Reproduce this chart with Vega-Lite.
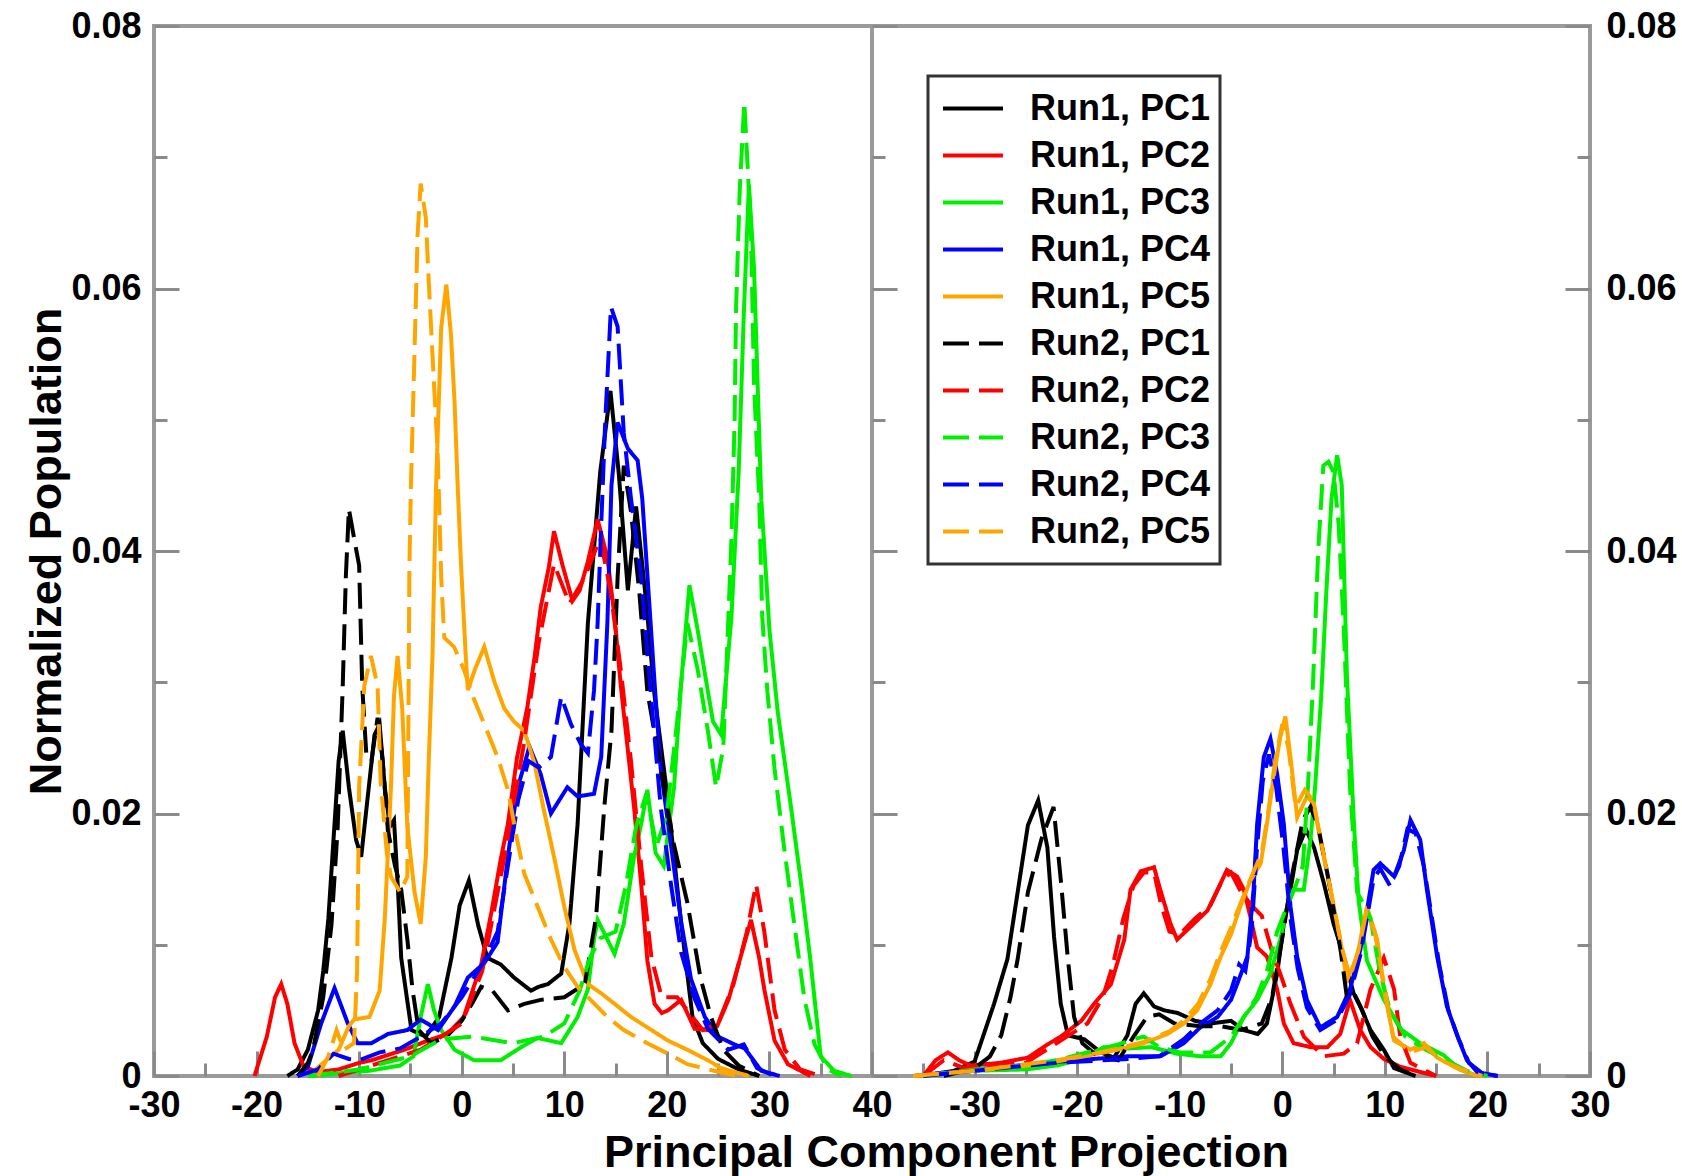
{
"$schema":"https://vega.github.io/schema/vega-lite/v6.json",
"background":"white",
"padding":{"left":22,"top":6,"right":0,"bottom":0},
"spacing":0,
"bounds":"flush",
"config":{
 "font":"Liberation Sans",
 "view":{"stroke":"#9a9a9a","strokeWidth":4},
 "axis":{"domain":false,"grid":false,"tickColor":"#8a8a8a","tickWidth":3,"labelFont":"Liberation Sans","labelFontSize":36,"labelFontWeight":"bold","labelColor":"#000","titleFont":"Liberation Sans","titleFontSize":45,"titleFontWeight":"bold","titleColor":"#000","labelFlush":false,"labelOverlap":false},
 "legend":{"strokeWidth":3}
},
"datasets":{
"L":[
{"s":"Run1, PC1","x":-17,"y":0},{"s":"Run1, PC1","x":-16,"y":0.0005},{"s":"Run1, PC1","x":-15,"y":0.002},{"s":"Run1, PC1","x":-14,"y":0.005},{"s":"Run1, PC1","x":-13.5,"y":0.008},{"s":"Run1, PC1","x":-13,"y":0.012},{"s":"Run1, PC1","x":-12.5,"y":0.018},{"s":"Run1, PC1","x":-12,"y":0.024},{"s":"Run1, PC1","x":-11.6,"y":0.0263},{"s":"Run1, PC1","x":-11,"y":0.022},{"s":"Run1, PC1","x":-10.3,"y":0.018},{"s":"Run1, PC1","x":-9.8,"y":0.0167},{"s":"Run1, PC1","x":-9.2,"y":0.021},{"s":"Run1, PC1","x":-8.5,"y":0.026},{"s":"Run1, PC1","x":-8,"y":0.0268},{"s":"Run1, PC1","x":-7.5,"y":0.022},{"s":"Run1, PC1","x":-7,"y":0.019},{"s":"Run1, PC1","x":-6.6,"y":0.0195},{"s":"Run1, PC1","x":-6.2,"y":0.014},{"s":"Run1, PC1","x":-5.9,"y":0.009},{"s":"Run1, PC1","x":-4.9,"y":0.0035},{"s":"Run1, PC1","x":-3.5,"y":0.003},{"s":"Run1, PC1","x":-2.2,"y":0.0045},{"s":"Run1, PC1","x":-1,"y":0.009},{"s":"Run1, PC1","x":-0.2,"y":0.013},{"s":"Run1, PC1","x":0.7,"y":0.0149},{"s":"Run1, PC1","x":1.6,"y":0.0115},{"s":"Run1, PC1","x":2.5,"y":0.009},{"s":"Run1, PC1","x":3.8,"y":0.0085},{"s":"Run1, PC1","x":5.1,"y":0.0075},{"s":"Run1, PC1","x":6.75,"y":0.0065},{"s":"Run1, PC1","x":7.5,"y":0.0068},{"s":"Run1, PC1","x":8.4,"y":0.007},{"s":"Run1, PC1","x":9.7,"y":0.0078},{"s":"Run1, PC1","x":10.5,"y":0.0116},{"s":"Run1, PC1","x":11.3,"y":0.0192},{"s":"Run1, PC1","x":12.3,"y":0.0345},{"s":"Run1, PC1","x":13.5,"y":0.046},{"s":"Run1, PC1","x":14.5,"y":0.0522},{"s":"Run1, PC1","x":15.3,"y":0.046},{"s":"Run1, PC1","x":16.2,"y":0.037},{"s":"Run1, PC1","x":17,"y":0.0434},{"s":"Run1, PC1","x":18,"y":0.036},{"s":"Run1, PC1","x":18.8,"y":0.029},{"s":"Run1, PC1","x":20.1,"y":0.021},{"s":"Run1, PC1","x":21.4,"y":0.0116},{"s":"Run1, PC1","x":22.5,"y":0.0045},{"s":"Run1, PC1","x":23.5,"y":0.0025},{"s":"Run1, PC1","x":25,"y":0.0013},{"s":"Run1, PC1","x":27,"y":0.0005},{"s":"Run1, PC1","x":29,"y":0},
{"s":"Run1, PC2","x":-20.2,"y":0},{"s":"Run1, PC2","x":-19,"y":0.003},{"s":"Run1, PC2","x":-18.2,"y":0.006},{"s":"Run1, PC2","x":-17.6,"y":0.007},{"s":"Run1, PC2","x":-17,"y":0.0055},{"s":"Run1, PC2","x":-16.3,"y":0.0025},{"s":"Run1, PC2","x":-15.4,"y":0.0007},{"s":"Run1, PC2","x":-14,"y":0.0003},{"s":"Run1, PC2","x":-12,"y":0.0005},{"s":"Run1, PC2","x":-10,"y":0.001},{"s":"Run1, PC2","x":-8.8,"y":0.0012},{"s":"Run1, PC2","x":-5.6,"y":0.002},{"s":"Run1, PC2","x":-3.3,"y":0.0027},{"s":"Run1, PC2","x":-1.4,"y":0.0032},{"s":"Run1, PC2","x":0.2,"y":0.0045},{"s":"Run1, PC2","x":1.9,"y":0.0085},{"s":"Run1, PC2","x":2.9,"y":0.0125},{"s":"Run1, PC2","x":3.8,"y":0.0165},{"s":"Run1, PC2","x":4.5,"y":0.0192},{"s":"Run1, PC2","x":5.4,"y":0.0243},{"s":"Run1, PC2","x":6.4,"y":0.0281},{"s":"Run1, PC2","x":7.1,"y":0.0319},{"s":"Run1, PC2","x":7.7,"y":0.0357},{"s":"Run1, PC2","x":8.5,"y":0.0388},{"s":"Run1, PC2","x":9,"y":0.0415},{"s":"Run1, PC2","x":9.8,"y":0.039},{"s":"Run1, PC2","x":10.8,"y":0.0362},{"s":"Run1, PC2","x":11.5,"y":0.037},{"s":"Run1, PC2","x":12.3,"y":0.0392},{"s":"Run1, PC2","x":13.25,"y":0.0424},{"s":"Run1, PC2","x":14.2,"y":0.0395},{"s":"Run1, PC2","x":14.9,"y":0.035},{"s":"Run1, PC2","x":15.5,"y":0.0298},{"s":"Run1, PC2","x":16.2,"y":0.0248},{"s":"Run1, PC2","x":16.8,"y":0.0205},{"s":"Run1, PC2","x":17.5,"y":0.0146},{"s":"Run1, PC2","x":18.1,"y":0.0088},{"s":"Run1, PC2","x":18.8,"y":0.0055},{"s":"Run1, PC2","x":19.5,"y":0.0048},{"s":"Run1, PC2","x":20.1,"y":0.005},{"s":"Run1, PC2","x":21.4,"y":0.0058},{"s":"Run1, PC2","x":22.7,"y":0.0036},{"s":"Run1, PC2","x":24,"y":0.0035},{"s":"Run1, PC2","x":24.9,"y":0.0038},{"s":"Run1, PC2","x":26,"y":0.0058},{"s":"Run1, PC2","x":27.2,"y":0.0091},{"s":"Run1, PC2","x":28.2,"y":0.0119},{"s":"Run1, PC2","x":29,"y":0.009},{"s":"Run1, PC2","x":29.5,"y":0.0066},{"s":"Run1, PC2","x":30.5,"y":0.0027},{"s":"Run1, PC2","x":31.8,"y":0.0009},{"s":"Run1, PC2","x":34,"y":0},
{"s":"Run1, PC3","x":-15,"y":0},{"s":"Run1, PC3","x":-12,"y":0.0002},{"s":"Run1, PC3","x":-9,"y":0.0004},{"s":"Run1, PC3","x":-6,"y":0.0008},{"s":"Run1, PC3","x":-4.7,"y":0.0015},{"s":"Run1, PC3","x":-4,"y":0.0045},{"s":"Run1, PC3","x":-3.3,"y":0.007},{"s":"Run1, PC3","x":-2.7,"y":0.005},{"s":"Run1, PC3","x":-2,"y":0.0035},{"s":"Run1, PC3","x":-0.7,"y":0.002},{"s":"Run1, PC3","x":1.2,"y":0.0012},{"s":"Run1, PC3","x":3.8,"y":0.0012},{"s":"Run1, PC3","x":5.8,"y":0.0022},{"s":"Run1, PC3","x":7.4,"y":0.0029},{"s":"Run1, PC3","x":9.7,"y":0.0025},{"s":"Run1, PC3","x":11.3,"y":0.0045},{"s":"Run1, PC3","x":12.3,"y":0.0066},{"s":"Run1, PC3","x":12.9,"y":0.0104},{"s":"Run1, PC3","x":13.25,"y":0.0119},{"s":"Run1, PC3","x":14.2,"y":0.0104},{"s":"Run1, PC3","x":14.9,"y":0.0093},{"s":"Run1, PC3","x":15.8,"y":0.0116},{"s":"Run1, PC3","x":16.8,"y":0.0167},{"s":"Run1, PC3","x":17.5,"y":0.0192},{"s":"Run1, PC3","x":18.1,"y":0.0218},{"s":"Run1, PC3","x":18.9,"y":0.017},{"s":"Run1, PC3","x":19.7,"y":0.016},{"s":"Run1, PC3","x":20.7,"y":0.022},{"s":"Run1, PC3","x":21.4,"y":0.03},{"s":"Run1, PC3","x":22.2,"y":0.0374},{"s":"Run1, PC3","x":23,"y":0.034},{"s":"Run1, PC3","x":23.7,"y":0.0307},{"s":"Run1, PC3","x":24.5,"y":0.027},{"s":"Run1, PC3","x":25.3,"y":0.026},{"s":"Run1, PC3","x":26.3,"y":0.035},{"s":"Run1, PC3","x":27,"y":0.046},{"s":"Run1, PC3","x":27.5,"y":0.058},{"s":"Run1, PC3","x":28,"y":0.0679},{"s":"Run1, PC3","x":28.5,"y":0.0615},{"s":"Run1, PC3","x":28.85,"y":0.0527},{"s":"Run1, PC3","x":29.2,"y":0.044},{"s":"Run1, PC3","x":30,"y":0.034},{"s":"Run1, PC3","x":30.8,"y":0.0278},{"s":"Run1, PC3","x":32.1,"y":0.0205},{"s":"Run1, PC3","x":33.1,"y":0.0146},{"s":"Run1, PC3","x":34,"y":0.0088},{"s":"Run1, PC3","x":35,"y":0.0015},{"s":"Run1, PC3","x":36.3,"y":0.0004},{"s":"Run1, PC3","x":38,"y":0},
{"s":"Run1, PC4","x":-16,"y":0},{"s":"Run1, PC4","x":-15,"y":0.0007},{"s":"Run1, PC4","x":-13.7,"y":0.004},{"s":"Run1, PC4","x":-12.4,"y":0.0067},{"s":"Run1, PC4","x":-11.1,"y":0.004},{"s":"Run1, PC4","x":-10.15,"y":0.0025},{"s":"Run1, PC4","x":-8.8,"y":0.0025},{"s":"Run1, PC4","x":-7.2,"y":0.0032},{"s":"Run1, PC4","x":-5.3,"y":0.0035},{"s":"Run1, PC4","x":-4,"y":0.0043},{"s":"Run1, PC4","x":-2.3,"y":0.0035},{"s":"Run1, PC4","x":-0.7,"y":0.0053},{"s":"Run1, PC4","x":0.6,"y":0.0075},{"s":"Run1, PC4","x":2.2,"y":0.0086},{"s":"Run1, PC4","x":3.5,"y":0.0102},{"s":"Run1, PC4","x":4.5,"y":0.0167},{"s":"Run1, PC4","x":5.4,"y":0.0218},{"s":"Run1, PC4","x":6.6,"y":0.0251},{"s":"Run1, PC4","x":7.7,"y":0.023},{"s":"Run1, PC4","x":8.7,"y":0.02},{"s":"Run1, PC4","x":9.5,"y":0.021},{"s":"Run1, PC4","x":10.3,"y":0.022},{"s":"Run1, PC4","x":11.3,"y":0.0213},{"s":"Run1, PC4","x":12.9,"y":0.0215},{"s":"Run1, PC4","x":13.6,"y":0.0243},{"s":"Run1, PC4","x":13.9,"y":0.0294},{"s":"Run1, PC4","x":14.2,"y":0.0345},{"s":"Run1, PC4","x":14.6,"y":0.045},{"s":"Run1, PC4","x":15.2,"y":0.0498},{"s":"Run1, PC4","x":16.2,"y":0.0478},{"s":"Run1, PC4","x":17.15,"y":0.0469},{"s":"Run1, PC4","x":17.6,"y":0.044},{"s":"Run1, PC4","x":18.1,"y":0.0382},{"s":"Run1, PC4","x":18.8,"y":0.03},{"s":"Run1, PC4","x":19.4,"y":0.0234},{"s":"Run1, PC4","x":20.4,"y":0.0176},{"s":"Run1, PC4","x":21.4,"y":0.0117},{"s":"Run1, PC4","x":22.35,"y":0.0074},{"s":"Run1, PC4","x":23.7,"y":0.0045},{"s":"Run1, PC4","x":25,"y":0.003},{"s":"Run1, PC4","x":26.6,"y":0.0024},{"s":"Run1, PC4","x":27.6,"y":0.0021},{"s":"Run1, PC4","x":29.2,"y":0.0004},{"s":"Run1, PC4","x":31,"y":0},
{"s":"Run1, PC5","x":-15,"y":0},{"s":"Run1, PC5","x":-13.5,"y":0.001},{"s":"Run1, PC5","x":-12,"y":0.002},{"s":"Run1, PC5","x":-11,"y":0.0038},{"s":"Run1, PC5","x":-10.5,"y":0.0043},{"s":"Run1, PC5","x":-9,"y":0.0045},{"s":"Run1, PC5","x":-8,"y":0.0065},{"s":"Run1, PC5","x":-7.5,"y":0.012},{"s":"Run1, PC5","x":-6.9,"y":0.022},{"s":"Run1, PC5","x":-6.6,"y":0.029},{"s":"Run1, PC5","x":-6.25,"y":0.032},{"s":"Run1, PC5","x":-5.8,"y":0.028},{"s":"Run1, PC5","x":-5.3,"y":0.019},{"s":"Run1, PC5","x":-4.6,"y":0.014},{"s":"Run1, PC5","x":-4,"y":0.0116},{"s":"Run1, PC5","x":-3.5,"y":0.0167},{"s":"Run1, PC5","x":-3.2,"y":0.0243},{"s":"Run1, PC5","x":-2.85,"y":0.032},{"s":"Run1, PC5","x":-2.5,"y":0.045},{"s":"Run1, PC5","x":-2,"y":0.057},{"s":"Run1, PC5","x":-1.5,"y":0.0603},{"s":"Run1, PC5","x":-1.05,"y":0.0565},{"s":"Run1, PC5","x":-0.7,"y":0.0514},{"s":"Run1, PC5","x":-0.4,"y":0.0451},{"s":"Run1, PC5","x":-0.07,"y":0.039},{"s":"Run1, PC5","x":0.4,"y":0.0319},{"s":"Run1, PC5","x":0.6,"y":0.0294},{"s":"Run1, PC5","x":1.3,"y":0.031},{"s":"Run1, PC5","x":2.2,"y":0.0327},{"s":"Run1, PC5","x":3.2,"y":0.03},{"s":"Run1, PC5","x":4.15,"y":0.028},{"s":"Run1, PC5","x":5.1,"y":0.027},{"s":"Run1, PC5","x":6.1,"y":0.0263},{"s":"Run1, PC5","x":7.1,"y":0.0238},{"s":"Run1, PC5","x":8,"y":0.0203},{"s":"Run1, PC5","x":9,"y":0.0167},{"s":"Run1, PC5","x":10,"y":0.0129},{"s":"Run1, PC5","x":11,"y":0.0096},{"s":"Run1, PC5","x":12.3,"y":0.007},{"s":"Run1, PC5","x":13.6,"y":0.0063},{"s":"Run1, PC5","x":14.9,"y":0.0055},{"s":"Run1, PC5","x":16.5,"y":0.0045},{"s":"Run1, PC5","x":18.1,"y":0.0037},{"s":"Run1, PC5","x":20.1,"y":0.0027},{"s":"Run1, PC5","x":22,"y":0.002},{"s":"Run1, PC5","x":24,"y":0.0012},{"s":"Run1, PC5","x":25.3,"y":0.0006},{"s":"Run1, PC5","x":28,"y":0},
{"s":"Run2, PC1","x":-16,"y":0},{"s":"Run2, PC1","x":-15,"y":0.001},{"s":"Run2, PC1","x":-14.5,"y":0.002},{"s":"Run2, PC1","x":-13.5,"y":0.006},{"s":"Run2, PC1","x":-12.7,"y":0.0115},{"s":"Run2, PC1","x":-12.1,"y":0.0188},{"s":"Run2, PC1","x":-11.6,"y":0.0297},{"s":"Run2, PC1","x":-11.3,"y":0.038},{"s":"Run2, PC1","x":-11,"y":0.0432},{"s":"Run2, PC1","x":-10.5,"y":0.041},{"s":"Run2, PC1","x":-10,"y":0.0389},{"s":"Run2, PC1","x":-9.7,"y":0.0297},{"s":"Run2, PC1","x":-9.3,"y":0.0245},{"s":"Run2, PC1","x":-8.8,"y":0.024},{"s":"Run2, PC1","x":-8.2,"y":0.0273},{"s":"Run2, PC1","x":-7.7,"y":0.024},{"s":"Run2, PC1","x":-7.2,"y":0.0187},{"s":"Run2, PC1","x":-6.5,"y":0.016},{"s":"Run2, PC1","x":-5.9,"y":0.0142},{"s":"Run2, PC1","x":-5.3,"y":0.0104},{"s":"Run2, PC1","x":-4.8,"y":0.0066},{"s":"Run2, PC1","x":-4.2,"y":0.0035},{"s":"Run2, PC1","x":-3,"y":0.0025},{"s":"Run2, PC1","x":-1.5,"y":0.003},{"s":"Run2, PC1","x":0,"y":0.0042},{"s":"Run2, PC1","x":1,"y":0.0055},{"s":"Run2, PC1","x":1.9,"y":0.0068},{"s":"Run2, PC1","x":3,"y":0.0065},{"s":"Run2, PC1","x":4.5,"y":0.005},{"s":"Run2, PC1","x":6.1,"y":0.0055},{"s":"Run2, PC1","x":7.7,"y":0.0058},{"s":"Run2, PC1","x":10,"y":0.006},{"s":"Run2, PC1","x":12,"y":0.007},{"s":"Run2, PC1","x":13.1,"y":0.0121},{"s":"Run2, PC1","x":13.9,"y":0.0205},{"s":"Run2, PC1","x":14.6,"y":0.0263},{"s":"Run2, PC1","x":15.2,"y":0.038},{"s":"Run2, PC1","x":15.8,"y":0.0465},{"s":"Run2, PC1","x":16.5,"y":0.043},{"s":"Run2, PC1","x":17.3,"y":0.037},{"s":"Run2, PC1","x":18.1,"y":0.0293},{"s":"Run2, PC1","x":19.4,"y":0.0234},{"s":"Run2, PC1","x":20.7,"y":0.0176},{"s":"Run2, PC1","x":22,"y":0.0132},{"s":"Run2, PC1","x":23.3,"y":0.0074},{"s":"Run2, PC1","x":24.3,"y":0.0045},{"s":"Run2, PC1","x":25.5,"y":0.002},{"s":"Run2, PC1","x":27,"y":0.0008},{"s":"Run2, PC1","x":29,"y":0},
{"s":"Run2, PC2","x":-12,"y":0},{"s":"Run2, PC2","x":-8,"y":0.001},{"s":"Run2, PC2","x":-4,"y":0.002},{"s":"Run2, PC2","x":0,"y":0.004},{"s":"Run2, PC2","x":2,"y":0.008},{"s":"Run2, PC2","x":4,"y":0.016},{"s":"Run2, PC2","x":6,"y":0.025},{"s":"Run2, PC2","x":7.5,"y":0.033},{"s":"Run2, PC2","x":9,"y":0.039},{"s":"Run2, PC2","x":10.5,"y":0.036},{"s":"Run2, PC2","x":12,"y":0.038},{"s":"Run2, PC2","x":13.5,"y":0.041},{"s":"Run2, PC2","x":14.5,"y":0.037},{"s":"Run2, PC2","x":15.5,"y":0.031},{"s":"Run2, PC2","x":16.5,"y":0.024},{"s":"Run2, PC2","x":17.5,"y":0.016},{"s":"Run2, PC2","x":18.5,"y":0.009},{"s":"Run2, PC2","x":19.5,"y":0.006},{"s":"Run2, PC2","x":21,"y":0.006},{"s":"Run2, PC2","x":22,"y":0.005},{"s":"Run2, PC2","x":23.5,"y":0.0035},{"s":"Run2, PC2","x":25,"y":0.004},{"s":"Run2, PC2","x":26.5,"y":0.007},{"s":"Run2, PC2","x":27.8,"y":0.011},{"s":"Run2, PC2","x":28.7,"y":0.0146},{"s":"Run2, PC2","x":29.5,"y":0.011},{"s":"Run2, PC2","x":30.5,"y":0.005},{"s":"Run2, PC2","x":31.5,"y":0.002},{"s":"Run2, PC2","x":33,"y":0.0005},{"s":"Run2, PC2","x":35,"y":0},
{"s":"Run2, PC3","x":-15,"y":0},{"s":"Run2, PC3","x":-10,"y":0.0005},{"s":"Run2, PC3","x":-5,"y":0.0015},{"s":"Run2, PC3","x":-2,"y":0.0028},{"s":"Run2, PC3","x":1,"y":0.003},{"s":"Run2, PC3","x":5,"y":0.0025},{"s":"Run2, PC3","x":8,"y":0.003},{"s":"Run2, PC3","x":10,"y":0.004},{"s":"Run2, PC3","x":11.5,"y":0.0065},{"s":"Run2, PC3","x":12.5,"y":0.009},{"s":"Run2, PC3","x":13.5,"y":0.0105},{"s":"Run2, PC3","x":15,"y":0.011},{"s":"Run2, PC3","x":16,"y":0.0145},{"s":"Run2, PC3","x":17,"y":0.019},{"s":"Run2, PC3","x":18,"y":0.0215},{"s":"Run2, PC3","x":19,"y":0.0175},{"s":"Run2, PC3","x":20,"y":0.02},{"s":"Run2, PC3","x":21,"y":0.027},{"s":"Run2, PC3","x":22,"y":0.0345},{"s":"Run2, PC3","x":23,"y":0.031},{"s":"Run2, PC3","x":24,"y":0.0263},{"s":"Run2, PC3","x":24.8,"y":0.022},{"s":"Run2, PC3","x":25.5,"y":0.025},{"s":"Run2, PC3","x":26,"y":0.035},{"s":"Run2, PC3","x":26.3,"y":0.041},{"s":"Run2, PC3","x":26.6,"y":0.0498},{"s":"Run2, PC3","x":26.75,"y":0.0586},{"s":"Run2, PC3","x":27.1,"y":0.0674},{"s":"Run2, PC3","x":27.55,"y":0.0742},{"s":"Run2, PC3","x":28.2,"y":0.0644},{"s":"Run2, PC3","x":28.5,"y":0.0527},{"s":"Run2, PC3","x":29,"y":0.044},{"s":"Run2, PC3","x":29.3,"y":0.035},{"s":"Run2, PC3","x":29.8,"y":0.0293},{"s":"Run2, PC3","x":30.5,"y":0.0234},{"s":"Run2, PC3","x":31.4,"y":0.0176},{"s":"Run2, PC3","x":32.4,"y":0.0117},{"s":"Run2, PC3","x":33.4,"y":0.0059},{"s":"Run2, PC3","x":34.4,"y":0.0024},{"s":"Run2, PC3","x":35.7,"y":0.0005},{"s":"Run2, PC3","x":37,"y":0},
{"s":"Run2, PC4","x":-16,"y":0},{"s":"Run2, PC4","x":-14,"y":0.0005},{"s":"Run2, PC4","x":-12.5,"y":0.0017},{"s":"Run2, PC4","x":-11,"y":0.0013},{"s":"Run2, PC4","x":-10,"y":0.0012},{"s":"Run2, PC4","x":-8,"y":0.0018},{"s":"Run2, PC4","x":-6,"y":0.0021},{"s":"Run2, PC4","x":-4,"y":0.003},{"s":"Run2, PC4","x":-2,"y":0.004},{"s":"Run2, PC4","x":0,"y":0.006},{"s":"Run2, PC4","x":2,"y":0.0085},{"s":"Run2, PC4","x":3.5,"y":0.011},{"s":"Run2, PC4","x":4.5,"y":0.016},{"s":"Run2, PC4","x":5.5,"y":0.021},{"s":"Run2, PC4","x":6.5,"y":0.024},{"s":"Run2, PC4","x":7.5,"y":0.0235},{"s":"Run2, PC4","x":8.7,"y":0.0243},{"s":"Run2, PC4","x":9.7,"y":0.0289},{"s":"Run2, PC4","x":10.65,"y":0.0268},{"s":"Run2, PC4","x":11.6,"y":0.0253},{"s":"Run2, PC4","x":12.3,"y":0.0246},{"s":"Run2, PC4","x":12.9,"y":0.0294},{"s":"Run2, PC4","x":13.25,"y":0.0345},{"s":"Run2, PC4","x":13.6,"y":0.042},{"s":"Run2, PC4","x":14,"y":0.05},{"s":"Run2, PC4","x":14.55,"y":0.0586},{"s":"Run2, PC4","x":15.2,"y":0.0571},{"s":"Run2, PC4","x":15.8,"y":0.049},{"s":"Run2, PC4","x":16.5,"y":0.044},{"s":"Run2, PC4","x":17.5,"y":0.038},{"s":"Run2, PC4","x":18.1,"y":0.0322},{"s":"Run2, PC4","x":18.75,"y":0.0263},{"s":"Run2, PC4","x":19.4,"y":0.0205},{"s":"Run2, PC4","x":20.4,"y":0.0146},{"s":"Run2, PC4","x":21.4,"y":0.0094},{"s":"Run2, PC4","x":22.7,"y":0.0059},{"s":"Run2, PC4","x":24,"y":0.0036},{"s":"Run2, PC4","x":26,"y":0.002},{"s":"Run2, PC4","x":27.5,"y":0.0024},{"s":"Run2, PC4","x":28.8,"y":0.0006},{"s":"Run2, PC4","x":30.5,"y":0},
{"s":"Run2, PC5","x":-14,"y":0},{"s":"Run2, PC5","x":-13,"y":0.0015},{"s":"Run2, PC5","x":-12.2,"y":0.0035},{"s":"Run2, PC5","x":-11.5,"y":0.002},{"s":"Run2, PC5","x":-10.5,"y":0.0025},{"s":"Run2, PC5","x":-10.2,"y":0.008},{"s":"Run2, PC5","x":-10,"y":0.022},{"s":"Run2, PC5","x":-9.5,"y":0.0297},{"s":"Run2, PC5","x":-8.85,"y":0.032},{"s":"Run2, PC5","x":-8.2,"y":0.0297},{"s":"Run2, PC5","x":-7.9,"y":0.0224},{"s":"Run2, PC5","x":-7.3,"y":0.017},{"s":"Run2, PC5","x":-6.9,"y":0.0152},{"s":"Run2, PC5","x":-6,"y":0.014},{"s":"Run2, PC5","x":-5.3,"y":0.0152},{"s":"Run2, PC5","x":-5.1,"y":0.0387},{"s":"Run2, PC5","x":-4.95,"y":0.0451},{"s":"Run2, PC5","x":-4.6,"y":0.0552},{"s":"Run2, PC5","x":-4.3,"y":0.0641},{"s":"Run2, PC5","x":-4,"y":0.068},{"s":"Run2, PC5","x":-3.5,"y":0.0654},{"s":"Run2, PC5","x":-3.2,"y":0.0603},{"s":"Run2, PC5","x":-2.7,"y":0.0527},{"s":"Run2, PC5","x":-2.35,"y":0.0476},{"s":"Run2, PC5","x":-2,"y":0.038},{"s":"Run2, PC5","x":-1.7,"y":0.0334},{"s":"Run2, PC5","x":-0.75,"y":0.0327},{"s":"Run2, PC5","x":0.2,"y":0.031},{"s":"Run2, PC5","x":1.2,"y":0.0287},{"s":"Run2, PC5","x":2.2,"y":0.0268},{"s":"Run2, PC5","x":3.5,"y":0.0243},{"s":"Run2, PC5","x":4.5,"y":0.0218},{"s":"Run2, PC5","x":5.4,"y":0.018},{"s":"Run2, PC5","x":6.1,"y":0.0154},{"s":"Run2, PC5","x":7.4,"y":0.0129},{"s":"Run2, PC5","x":8.7,"y":0.0104},{"s":"Run2, PC5","x":10,"y":0.0083},{"s":"Run2, PC5","x":11.3,"y":0.0068},{"s":"Run2, PC5","x":14.2,"y":0.0045},{"s":"Run2, PC5","x":15.8,"y":0.0035},{"s":"Run2, PC5","x":18.1,"y":0.0025},{"s":"Run2, PC5","x":20.1,"y":0.0017},{"s":"Run2, PC5","x":22,"y":0.0009},{"s":"Run2, PC5","x":24.6,"y":0.0004},{"s":"Run2, PC5","x":27,"y":0}
],
"R":[
{"s":"Run1, PC1","x":-35,"y":0},{"s":"Run1, PC1","x":-32,"y":0.0004},{"s":"Run1, PC1","x":-30,"y":0.0011},{"s":"Run1, PC1","x":-28.1,"y":0.0055},{"s":"Run1, PC1","x":-26.8,"y":0.0089},{"s":"Run1, PC1","x":-25.8,"y":0.014},{"s":"Run1, PC1","x":-24.8,"y":0.0191},{"s":"Run1, PC1","x":-23.8,"y":0.021},{"s":"Run1, PC1","x":-22.9,"y":0.0174},{"s":"Run1, PC1","x":-22.25,"y":0.0106},{"s":"Run1, PC1","x":-21.6,"y":0.0055},{"s":"Run1, PC1","x":-20.9,"y":0.0031},{"s":"Run1, PC1","x":-19.3,"y":0.0028},{"s":"Run1, PC1","x":-17.7,"y":0.0018},{"s":"Run1, PC1","x":-16.4,"y":0.0014},{"s":"Run1, PC1","x":-15.1,"y":0.0031},{"s":"Run1, PC1","x":-14.3,"y":0.0055},{"s":"Run1, PC1","x":-13.5,"y":0.0063},{"s":"Run1, PC1","x":-12.5,"y":0.0053},{"s":"Run1, PC1","x":-11.5,"y":0.005},{"s":"Run1, PC1","x":-10.2,"y":0.0048},{"s":"Run1, PC1","x":-8.5,"y":0.0042},{"s":"Run1, PC1","x":-7,"y":0.004},{"s":"Run1, PC1","x":-5,"y":0.0042},{"s":"Run1, PC1","x":-3.75,"y":0.0035},{"s":"Run1, PC1","x":-2.4,"y":0.0032},{"s":"Run1, PC1","x":-1.5,"y":0.004},{"s":"Run1, PC1","x":-0.5,"y":0.0078},{"s":"Run1, PC1","x":0.15,"y":0.0116},{"s":"Run1, PC1","x":0.8,"y":0.0142},{"s":"Run1, PC1","x":1.45,"y":0.0172},{"s":"Run1, PC1","x":2.3,"y":0.0188},{"s":"Run1, PC1","x":3.1,"y":0.0174},{"s":"Run1, PC1","x":4.05,"y":0.0147},{"s":"Run1, PC1","x":5,"y":0.0116},{"s":"Run1, PC1","x":6,"y":0.0091},{"s":"Run1, PC1","x":6.95,"y":0.0063},{"s":"Run1, PC1","x":7.6,"y":0.0053},{"s":"Run1, PC1","x":8.6,"y":0.0035},{"s":"Run1, PC1","x":9.9,"y":0.002},{"s":"Run1, PC1","x":10.9,"y":0.0006},{"s":"Run1, PC1","x":13,"y":0},
{"s":"Run1, PC2","x":-35,"y":0},{"s":"Run1, PC2","x":-33.8,"y":0.0012},{"s":"Run1, PC2","x":-32.6,"y":0.0018},{"s":"Run1, PC2","x":-31.5,"y":0.0012},{"s":"Run1, PC2","x":-30.4,"y":0.0008},{"s":"Run1, PC2","x":-27.5,"y":0.001},{"s":"Run1, PC2","x":-24.8,"y":0.0014},{"s":"Run1, PC2","x":-22.9,"y":0.0024},{"s":"Run1, PC2","x":-21.6,"y":0.003},{"s":"Run1, PC2","x":-19.6,"y":0.0042},{"s":"Run1, PC2","x":-18.35,"y":0.0055},{"s":"Run1, PC2","x":-16.7,"y":0.007},{"s":"Run1, PC2","x":-15.4,"y":0.0104},{"s":"Run1, PC2","x":-14.8,"y":0.0142},{"s":"Run1, PC2","x":-13.8,"y":0.0156},{"s":"Run1, PC2","x":-12.5,"y":0.0159},{"s":"Run1, PC2","x":-11.9,"y":0.0142},{"s":"Run1, PC2","x":-10.9,"y":0.0116},{"s":"Run1, PC2","x":-10.25,"y":0.0104},{"s":"Run1, PC2","x":-8.9,"y":0.0114},{"s":"Run1, PC2","x":-7.3,"y":0.0126},{"s":"Run1, PC2","x":-6.3,"y":0.0142},{"s":"Run1, PC2","x":-5.4,"y":0.0157},{"s":"Run1, PC2","x":-4.4,"y":0.0152},{"s":"Run1, PC2","x":-3.75,"y":0.0142},{"s":"Run1, PC2","x":-3.1,"y":0.0121},{"s":"Run1, PC2","x":-2.45,"y":0.0098},{"s":"Run1, PC2","x":-1.5,"y":0.0091},{"s":"Run1, PC2","x":-0.5,"y":0.0066},{"s":"Run1, PC2","x":0.15,"y":0.004},{"s":"Run1, PC2","x":1.1,"y":0.0025},{"s":"Run1, PC2","x":2.75,"y":0.0022},{"s":"Run1, PC2","x":4.4,"y":0.0022},{"s":"Run1, PC2","x":5.65,"y":0.0032},{"s":"Run1, PC2","x":6.6,"y":0.0058},{"s":"Run1, PC2","x":7.6,"y":0.0035},{"s":"Run1, PC2","x":8.6,"y":0.0022},{"s":"Run1, PC2","x":9.9,"y":0.0013},{"s":"Run1, PC2","x":11.5,"y":0.0007},{"s":"Run1, PC2","x":15,"y":0},
{"s":"Run1, PC3","x":-35,"y":0},{"s":"Run1, PC3","x":-30,"y":0.0004},{"s":"Run1, PC3","x":-25,"y":0.0005},{"s":"Run1, PC3","x":-22,"y":0.0008},{"s":"Run1, PC3","x":-20,"y":0.0012},{"s":"Run1, PC3","x":-18.35,"y":0.0018},{"s":"Run1, PC3","x":-17.4,"y":0.0022},{"s":"Run1, PC3","x":-15,"y":0.0021},{"s":"Run1, PC3","x":-12.8,"y":0.0022},{"s":"Run1, PC3","x":-10.25,"y":0.0017},{"s":"Run1, PC3","x":-8,"y":0.0015},{"s":"Run1, PC3","x":-6,"y":0.0015},{"s":"Run1, PC3","x":-5,"y":0.0025},{"s":"Run1, PC3","x":-3.75,"y":0.0045},{"s":"Run1, PC3","x":-2.45,"y":0.0058},{"s":"Run1, PC3","x":-1.15,"y":0.0078},{"s":"Run1, PC3","x":-0.2,"y":0.0104},{"s":"Run1, PC3","x":0.5,"y":0.0129},{"s":"Run1, PC3","x":1.1,"y":0.0142},{"s":"Run1, PC3","x":2.1,"y":0.0142},{"s":"Run1, PC3","x":2.75,"y":0.018},{"s":"Run1, PC3","x":3.2,"y":0.022},{"s":"Run1, PC3","x":3.8,"y":0.029},{"s":"Run1, PC3","x":4.3,"y":0.037},{"s":"Run1, PC3","x":4.8,"y":0.044},{"s":"Run1, PC3","x":5.35,"y":0.0473},{"s":"Run1, PC3","x":5.8,"y":0.045},{"s":"Run1, PC3","x":6.3,"y":0.0305},{"s":"Run1, PC3","x":7,"y":0.019},{"s":"Run1, PC3","x":7.45,"y":0.0133},{"s":"Run1, PC3","x":8.25,"y":0.0088},{"s":"Run1, PC3","x":9.85,"y":0.0059},{"s":"Run1, PC3","x":11.5,"y":0.0036},{"s":"Run1, PC3","x":13.45,"y":0.0025},{"s":"Run1, PC3","x":15.7,"y":0.0016},{"s":"Run1, PC3","x":17.3,"y":0.0005},{"s":"Run1, PC3","x":19,"y":0},
{"s":"Run1, PC4","x":-36,"y":0},{"s":"Run1, PC4","x":-31.3,"y":0.0004},{"s":"Run1, PC4","x":-21.6,"y":0.0011},{"s":"Run1, PC4","x":-15.1,"y":0.0015},{"s":"Run1, PC4","x":-11.9,"y":0.0015},{"s":"Run1, PC4","x":-9.6,"y":0.0025},{"s":"Run1, PC4","x":-8,"y":0.0037},{"s":"Run1, PC4","x":-6.3,"y":0.0045},{"s":"Run1, PC4","x":-5,"y":0.0058},{"s":"Run1, PC4","x":-4.4,"y":0.007},{"s":"Run1, PC4","x":-3.4,"y":0.0091},{"s":"Run1, PC4","x":-2.8,"y":0.0142},{"s":"Run1, PC4","x":-2.45,"y":0.0192},{"s":"Run1, PC4","x":-1.8,"y":0.0243},{"s":"Run1, PC4","x":-1.15,"y":0.0257},{"s":"Run1, PC4","x":-0.5,"y":0.023},{"s":"Run1, PC4","x":0.15,"y":0.0192},{"s":"Run1, PC4","x":0.8,"y":0.0129},{"s":"Run1, PC4","x":1.45,"y":0.0091},{"s":"Run1, PC4","x":2.4,"y":0.0058},{"s":"Run1, PC4","x":3.7,"y":0.0037},{"s":"Run1, PC4","x":5.35,"y":0.0045},{"s":"Run1, PC4","x":6.6,"y":0.0066},{"s":"Run1, PC4","x":7.6,"y":0.0096},{"s":"Run1, PC4","x":8.25,"y":0.0126},{"s":"Run1, PC4","x":8.9,"y":0.0157},{"s":"Run1, PC4","x":9.55,"y":0.0162},{"s":"Run1, PC4","x":10.9,"y":0.0152},{"s":"Run1, PC4","x":11.85,"y":0.0172},{"s":"Run1, PC4","x":12.5,"y":0.0195},{"s":"Run1, PC4","x":13.45,"y":0.018},{"s":"Run1, PC4","x":14.1,"y":0.0142},{"s":"Run1, PC4","x":15.1,"y":0.0091},{"s":"Run1, PC4","x":16.05,"y":0.0053},{"s":"Run1, PC4","x":17,"y":0.0032},{"s":"Run1, PC4","x":18,"y":0.0012},{"s":"Run1, PC4","x":19,"y":0.0003},{"s":"Run1, PC4","x":21,"y":0},
{"s":"Run1, PC5","x":-36,"y":0},{"s":"Run1, PC5","x":-30,"y":0.0004},{"s":"Run1, PC5","x":-25,"y":0.0008},{"s":"Run1, PC5","x":-22,"y":0.0011},{"s":"Run1, PC5","x":-19.3,"y":0.0015},{"s":"Run1, PC5","x":-16.1,"y":0.002},{"s":"Run1, PC5","x":-13.5,"y":0.0025},{"s":"Run1, PC5","x":-11.2,"y":0.0032},{"s":"Run1, PC5","x":-9.6,"y":0.004},{"s":"Run1, PC5","x":-8.3,"y":0.005},{"s":"Run1, PC5","x":-7,"y":0.007},{"s":"Run1, PC5","x":-6,"y":0.0091},{"s":"Run1, PC5","x":-5,"y":0.0108},{"s":"Run1, PC5","x":-4.1,"y":0.0129},{"s":"Run1, PC5","x":-3.1,"y":0.0149},{"s":"Run1, PC5","x":-2.1,"y":0.0162},{"s":"Run1, PC5","x":-1.5,"y":0.0192},{"s":"Run1, PC5","x":-0.8,"y":0.023},{"s":"Run1, PC5","x":-0.2,"y":0.0258},{"s":"Run1, PC5","x":0.3,"y":0.0274},{"s":"Run1, PC5","x":0.8,"y":0.0243},{"s":"Run1, PC5","x":1.45,"y":0.0197},{"s":"Run1, PC5","x":2.4,"y":0.0213},{"s":"Run1, PC5","x":3.1,"y":0.0207},{"s":"Run1, PC5","x":3.7,"y":0.018},{"s":"Run1, PC5","x":4.7,"y":0.0142},{"s":"Run1, PC5","x":5.65,"y":0.0104},{"s":"Run1, PC5","x":6.3,"y":0.0073},{"s":"Run1, PC5","x":7.3,"y":0.0091},{"s":"Run1, PC5","x":8.25,"y":0.0129},{"s":"Run1, PC5","x":9.25,"y":0.0104},{"s":"Run1, PC5","x":9.9,"y":0.0066},{"s":"Run1, PC5","x":10.9,"y":0.0027},{"s":"Run1, PC5","x":12.5,"y":0.002},{"s":"Run1, PC5","x":13.8,"y":0.0025},{"s":"Run1, PC5","x":15.1,"y":0.0014},{"s":"Run1, PC5","x":17,"y":0.0006},{"s":"Run1, PC5","x":19,"y":0},
{"s":"Run2, PC1","x":-33,"y":0},{"s":"Run2, PC1","x":-30,"y":0.0006},{"s":"Run2, PC1","x":-28.5,"y":0.0015},{"s":"Run2, PC1","x":-27.4,"y":0.0031},{"s":"Run2, PC1","x":-26.5,"y":0.006},{"s":"Run2, PC1","x":-25.8,"y":0.0089},{"s":"Run2, PC1","x":-24.8,"y":0.014},{"s":"Run2, PC1","x":-23.5,"y":0.018},{"s":"Run2, PC1","x":-22.3,"y":0.0205},{"s":"Run2, PC1","x":-21.6,"y":0.015},{"s":"Run2, PC1","x":-20.9,"y":0.0089},{"s":"Run2, PC1","x":-20.3,"y":0.0045},{"s":"Run2, PC1","x":-19.5,"y":0.0025},{"s":"Run2, PC1","x":-18,"y":0.0015},{"s":"Run2, PC1","x":-16,"y":0.0012},{"s":"Run2, PC1","x":-14.5,"y":0.003},{"s":"Run2, PC1","x":-13.2,"y":0.0045},{"s":"Run2, PC1","x":-12,"y":0.0047},{"s":"Run2, PC1","x":-10.5,"y":0.004},{"s":"Run2, PC1","x":-8,"y":0.0038},{"s":"Run2, PC1","x":-6,"y":0.0038},{"s":"Run2, PC1","x":-4,"y":0.0035},{"s":"Run2, PC1","x":-2,"y":0.004},{"s":"Run2, PC1","x":-1,"y":0.006},{"s":"Run2, PC1","x":0,"y":0.0105},{"s":"Run2, PC1","x":1,"y":0.0155},{"s":"Run2, PC1","x":2,"y":0.0195},{"s":"Run2, PC1","x":2.75,"y":0.0205},{"s":"Run2, PC1","x":3.5,"y":0.019},{"s":"Run2, PC1","x":4.5,"y":0.015},{"s":"Run2, PC1","x":5.7,"y":0.0095},{"s":"Run2, PC1","x":6.3,"y":0.006},{"s":"Run2, PC1","x":7,"y":0.0063},{"s":"Run2, PC1","x":7.8,"y":0.005},{"s":"Run2, PC1","x":8.8,"y":0.003},{"s":"Run2, PC1","x":10,"y":0.0015},{"s":"Run2, PC1","x":11.5,"y":0.0005},{"s":"Run2, PC1","x":13,"y":0},
{"s":"Run2, PC2","x":-35,"y":0},{"s":"Run2, PC2","x":-33,"y":0.0012},{"s":"Run2, PC2","x":-31,"y":0.0006},{"s":"Run2, PC2","x":-28,"y":0.0008},{"s":"Run2, PC2","x":-25,"y":0.001},{"s":"Run2, PC2","x":-23,"y":0.002},{"s":"Run2, PC2","x":-21,"y":0.003},{"s":"Run2, PC2","x":-19,"y":0.004},{"s":"Run2, PC2","x":-17.5,"y":0.006},{"s":"Run2, PC2","x":-16.5,"y":0.0085},{"s":"Run2, PC2","x":-15.5,"y":0.012},{"s":"Run2, PC2","x":-14.5,"y":0.0145},{"s":"Run2, PC2","x":-13.5,"y":0.0155},{"s":"Run2, PC2","x":-12.5,"y":0.0155},{"s":"Run2, PC2","x":-11.8,"y":0.013},{"s":"Run2, PC2","x":-11,"y":0.011},{"s":"Run2, PC2","x":-10,"y":0.0108},{"s":"Run2, PC2","x":-8.5,"y":0.012},{"s":"Run2, PC2","x":-7,"y":0.013},{"s":"Run2, PC2","x":-5.8,"y":0.015},{"s":"Run2, PC2","x":-5,"y":0.0155},{"s":"Run2, PC2","x":-4,"y":0.014},{"s":"Run2, PC2","x":-3,"y":0.013},{"s":"Run2, PC2","x":-2,"y":0.0122},{"s":"Run2, PC2","x":-1,"y":0.0095},{"s":"Run2, PC2","x":-0.2,"y":0.0078},{"s":"Run2, PC2","x":0.8,"y":0.0055},{"s":"Run2, PC2","x":2.1,"y":0.003},{"s":"Run2, PC2","x":4,"y":0.0015},{"s":"Run2, PC2","x":6,"y":0.0017},{"s":"Run2, PC2","x":7.3,"y":0.0025},{"s":"Run2, PC2","x":8.6,"y":0.0066},{"s":"Run2, PC2","x":9.9,"y":0.009},{"s":"Run2, PC2","x":10.9,"y":0.0066},{"s":"Run2, PC2","x":11.5,"y":0.003},{"s":"Run2, PC2","x":12.5,"y":0.001},{"s":"Run2, PC2","x":15,"y":0},
{"s":"Run2, PC3","x":-35,"y":0},{"s":"Run2, PC3","x":-30,"y":0.0005},{"s":"Run2, PC3","x":-25,"y":0.0008},{"s":"Run2, PC3","x":-22,"y":0.0012},{"s":"Run2, PC3","x":-20,"y":0.0016},{"s":"Run2, PC3","x":-18,"y":0.002},{"s":"Run2, PC3","x":-16,"y":0.0024},{"s":"Run2, PC3","x":-14.5,"y":0.0028},{"s":"Run2, PC3","x":-13.5,"y":0.003},{"s":"Run2, PC3","x":-12,"y":0.0022},{"s":"Run2, PC3","x":-10,"y":0.0018},{"s":"Run2, PC3","x":-7,"y":0.0018},{"s":"Run2, PC3","x":-5,"y":0.003},{"s":"Run2, PC3","x":-3.5,"y":0.0048},{"s":"Run2, PC3","x":-2.5,"y":0.006},{"s":"Run2, PC3","x":-1.5,"y":0.008},{"s":"Run2, PC3","x":-0.5,"y":0.011},{"s":"Run2, PC3","x":0.5,"y":0.013},{"s":"Run2, PC3","x":1.3,"y":0.0145},{"s":"Run2, PC3","x":2,"y":0.016},{"s":"Run2, PC3","x":2.5,"y":0.022},{"s":"Run2, PC3","x":3,"y":0.03},{"s":"Run2, PC3","x":3.5,"y":0.04},{"s":"Run2, PC3","x":4,"y":0.0465},{"s":"Run2, PC3","x":4.5,"y":0.0468},{"s":"Run2, PC3","x":5,"y":0.046},{"s":"Run2, PC3","x":5.5,"y":0.042},{"s":"Run2, PC3","x":6,"y":0.034},{"s":"Run2, PC3","x":6.6,"y":0.022},{"s":"Run2, PC3","x":7.3,"y":0.014},{"s":"Run2, PC3","x":8,"y":0.013},{"s":"Run2, PC3","x":8.6,"y":0.012},{"s":"Run2, PC3","x":9.5,"y":0.008},{"s":"Run2, PC3","x":10.5,"y":0.005},{"s":"Run2, PC3","x":12,"y":0.003},{"s":"Run2, PC3","x":14,"y":0.002},{"s":"Run2, PC3","x":16,"y":0.0012},{"s":"Run2, PC3","x":18,"y":0.0004},{"s":"Run2, PC3","x":20,"y":0},
{"s":"Run2, PC4","x":-35,"y":0},{"s":"Run2, PC4","x":-30,"y":0.0004},{"s":"Run2, PC4","x":-22,"y":0.001},{"s":"Run2, PC4","x":-15,"y":0.0013},{"s":"Run2, PC4","x":-12,"y":0.0015},{"s":"Run2, PC4","x":-9.6,"y":0.0028},{"s":"Run2, PC4","x":-8,"y":0.004},{"s":"Run2, PC4","x":-6.3,"y":0.005},{"s":"Run2, PC4","x":-5,"y":0.0065},{"s":"Run2, PC4","x":-4.2,"y":0.0085},{"s":"Run2, PC4","x":-3.6,"y":0.008},{"s":"Run2, PC4","x":-3,"y":0.011},{"s":"Run2, PC4","x":-2.5,"y":0.017},{"s":"Run2, PC4","x":-1.9,"y":0.0225},{"s":"Run2, PC4","x":-1.3,"y":0.0245},{"s":"Run2, PC4","x":-0.6,"y":0.022},{"s":"Run2, PC4","x":0.1,"y":0.0175},{"s":"Run2, PC4","x":0.8,"y":0.012},{"s":"Run2, PC4","x":1.5,"y":0.0082},{"s":"Run2, PC4","x":2.4,"y":0.0052},{"s":"Run2, PC4","x":3.7,"y":0.0035},{"s":"Run2, PC4","x":5.35,"y":0.0043},{"s":"Run2, PC4","x":6.6,"y":0.0062},{"s":"Run2, PC4","x":7.6,"y":0.0092},{"s":"Run2, PC4","x":8.25,"y":0.012},{"s":"Run2, PC4","x":8.9,"y":0.015},{"s":"Run2, PC4","x":9.55,"y":0.0158},{"s":"Run2, PC4","x":10.5,"y":0.0145},{"s":"Run2, PC4","x":11.4,"y":0.016},{"s":"Run2, PC4","x":12.2,"y":0.0188},{"s":"Run2, PC4","x":13,"y":0.0185},{"s":"Run2, PC4","x":13.8,"y":0.016},{"s":"Run2, PC4","x":14.5,"y":0.0125},{"s":"Run2, PC4","x":15.3,"y":0.0085},{"s":"Run2, PC4","x":16.2,"y":0.005},{"s":"Run2, PC4","x":17.2,"y":0.0028},{"s":"Run2, PC4","x":18.2,"y":0.001},{"s":"Run2, PC4","x":19.5,"y":0.0002},{"s":"Run2, PC4","x":21,"y":0},
{"s":"Run2, PC5","x":-36,"y":0},{"s":"Run2, PC5","x":-30,"y":0.0004},{"s":"Run2, PC5","x":-25,"y":0.0009},{"s":"Run2, PC5","x":-22,"y":0.0012},{"s":"Run2, PC5","x":-19,"y":0.0016},{"s":"Run2, PC5","x":-16,"y":0.0021},{"s":"Run2, PC5","x":-13.5,"y":0.0026},{"s":"Run2, PC5","x":-11,"y":0.0034},{"s":"Run2, PC5","x":-9.5,"y":0.0043},{"s":"Run2, PC5","x":-8.2,"y":0.0055},{"s":"Run2, PC5","x":-7,"y":0.0074},{"s":"Run2, PC5","x":-6,"y":0.0095},{"s":"Run2, PC5","x":-5,"y":0.0113},{"s":"Run2, PC5","x":-4,"y":0.0133},{"s":"Run2, PC5","x":-3,"y":0.0152},{"s":"Run2, PC5","x":-2,"y":0.017},{"s":"Run2, PC5","x":-1.3,"y":0.0205},{"s":"Run2, PC5","x":-0.7,"y":0.024},{"s":"Run2, PC5","x":0,"y":0.0268},{"s":"Run2, PC5","x":0.6,"y":0.025},{"s":"Run2, PC5","x":1.3,"y":0.0205},{"s":"Run2, PC5","x":2.2,"y":0.0218},{"s":"Run2, PC5","x":3,"y":0.021},{"s":"Run2, PC5","x":3.8,"y":0.0178},{"s":"Run2, PC5","x":4.8,"y":0.0138},{"s":"Run2, PC5","x":5.8,"y":0.0098},{"s":"Run2, PC5","x":6.6,"y":0.0075},{"s":"Run2, PC5","x":7.5,"y":0.0098},{"s":"Run2, PC5","x":8.2,"y":0.0125},{"s":"Run2, PC5","x":9,"y":0.011},{"s":"Run2, PC5","x":9.8,"y":0.0075},{"s":"Run2, PC5","x":10.8,"y":0.003},{"s":"Run2, PC5","x":12.5,"y":0.0018},{"s":"Run2, PC5","x":14,"y":0.0022},{"s":"Run2, PC5","x":15.5,"y":0.0012},{"s":"Run2, PC5","x":17.5,"y":0.0005},{"s":"Run2, PC5","x":19.5,"y":0}
]
},
"hconcat":[
{
 "width":718,"height":1050,
 "data":{"name":"L"},
 "mark":{"type":"line","strokeWidth":4},
 "encoding":{
  "x":{"field":"x","type":"quantitative","scale":{"domain":[-30,40],"nice":false,"zero":false},
   "axis":{"orient":"bottom","values":[-30,-25,-20,-15,-10,-5,0,5,10,15,20,25,30,35,40],
    "tickSize":{"condition":{"test":"datum.value % 10 === 0","value":-25},"value":-13},
    "labelExpr":"datum.value % 10 === 0 ? (datum.value < 0 ? '-' + abs(datum.value) : '' + datum.value) : ''",
    "labelPadding":37,"title":"Principal Component Projection","titleX":792,"titleAlign":"center","titlePadding":-5}},
  "y":{"field":"y","type":"quantitative","scale":{"domain":[0,0.08],"nice":false,"zero":true},
   "axis":{"orient":"left","values":[0,0.01,0.02,0.03,0.04,0.05,0.06,0.07,0.08],
    "tickSize":{"condition":{"test":"round(datum.value*100) % 2 === 0","value":-25},"value":-13},
    "labelExpr":"round(datum.value*100) % 2 === 0 ? (datum.value === 0 ? '0' : format(datum.value, '.2f')) : ''",
    "labelPadding":38,"title":"Normalized Population","titlePadding":1}},
  "color":{"field":"s","type":"nominal","legend":null,
   "scale":{"domain":["Run1, PC1","Run1, PC2","Run1, PC3","Run1, PC4","Run1, PC5","Run2, PC1","Run2, PC2","Run2, PC3","Run2, PC4","Run2, PC5"],
   "range":["#000000","#ff0000","#00ee00","#0000ff","#ffa500","#000000","#ff0000","#00ee00","#0000ff","#ffa500"]}},
  "strokeDash":{"field":"s","type":"nominal","legend":null,
   "scale":{"domain":["Run1, PC1","Run1, PC2","Run1, PC3","Run1, PC4","Run1, PC5","Run2, PC1","Run2, PC2","Run2, PC3","Run2, PC4","Run2, PC5"],
   "range":[[1,0],[1,0],[1,0],[1,0],[1,0],[26,10],[26,10],[26,10],[26,10],[26,10]]}}
 }
},
{
 "width":718,"height":1050,
 "data":{"name":"R"},
 "layer":[
  {
   "mark":{"type":"line","strokeWidth":4},
   "encoding":{
    "x":{"field":"x","type":"quantitative","scale":{"domain":[-40,30],"nice":false,"zero":false},
     "axis":{"orient":"bottom","values":[-40,-35,-30,-25,-20,-15,-10,-5,0,5,10,15,20,25,30],
      "tickSize":{"condition":{"test":"datum.value % 10 === 0","value":-25},"value":-13},
      "labelExpr":"datum.value % 10 === 0 && datum.value > -40 ? (datum.value < 0 ? '-' + abs(datum.value) : '' + datum.value) : ''",
      "labelPadding":37,"title":null}},
    "y":{"field":"y","type":"quantitative","scale":{"domain":[0,0.08],"nice":false,"zero":true},
     "axis":{"orient":"left","values":[0,0.01,0.02,0.03,0.04,0.05,0.06,0.07,0.08],
      "tickSize":{"condition":{"test":"round(datum.value*100) % 2 === 0","value":-25},"value":-13},
      "labels":false,"title":null}},
    "color":{"field":"s","type":"nominal",
     "scale":{"domain":["Run1, PC1","Run1, PC2","Run1, PC3","Run1, PC4","Run1, PC5","Run2, PC1","Run2, PC2","Run2, PC3","Run2, PC4","Run2, PC5"],
     "range":["#000000","#ff0000","#00ee00","#0000ff","#ffa500","#000000","#ff0000","#00ee00","#0000ff","#ffa500"]},
     "legend":{"title":null,"orient":"none","legendX":56,"legendY":50,"symbolType":"stroke","symbolSize":3600,"symbolStrokeWidth":4,"labelFont":"Liberation Sans","labelFontSize":36,"labelFontWeight":"bold","labelColor":"#000","labelLimit":400,"labelOffset":25,"padding":9,"symbolOffset":4,"strokeColor":"#333333","clipHeight":47,"rowPadding":0,"fillColor":"#ffffff"}},
    "strokeDash":{"field":"s","type":"nominal",
     "scale":{"domain":["Run1, PC1","Run1, PC2","Run1, PC3","Run1, PC4","Run1, PC5","Run2, PC1","Run2, PC2","Run2, PC3","Run2, PC4","Run2, PC5"],
     "range":[[1,0],[1,0],[1,0],[1,0],[1,0],[26,10],[26,10],[26,10],[26,10],[26,10]]},
     "legend":{"title":null,"orient":"none","legendX":56,"legendY":50,"symbolType":"stroke","symbolSize":3600,"symbolStrokeWidth":4,"labelFont":"Liberation Sans","labelFontSize":36,"labelFontWeight":"bold","labelColor":"#000","labelLimit":400,"labelOffset":25,"padding":9,"symbolOffset":4,"strokeColor":"#333333","clipHeight":47,"rowPadding":0,"fillColor":"#ffffff"}}
   }
  },
  {
   "data":{"values":[{"k":1}]},
   "mark":{"type":"rule","opacity":0},
   "encoding":{
    "y":{"datum":0,"type":"quantitative","scale":{"domain":[0,0.08],"nice":false,"zero":true},
     "axis":{"orient":"right","values":[0,0.01,0.02,0.03,0.04,0.05,0.06,0.07,0.08],
      "tickSize":{"condition":{"test":"round(datum.value*100) % 2 === 0","value":-25},"value":-13},
      "labelExpr":"round(datum.value*100) % 2 === 0 ? (datum.value === 0 ? '0' : format(datum.value, '.2f')) : ''",
      "labelAlign":"left","labelPadding":41,"title":null}}
   }
  }
 ],
 "resolve":{"axis":{"y":"independent"}}
}
],
"resolve":{"scale":{"x":"independent","y":"independent","color":"independent","strokeDash":"independent"},"legend":{"color":"independent","strokeDash":"independent"}}
}
